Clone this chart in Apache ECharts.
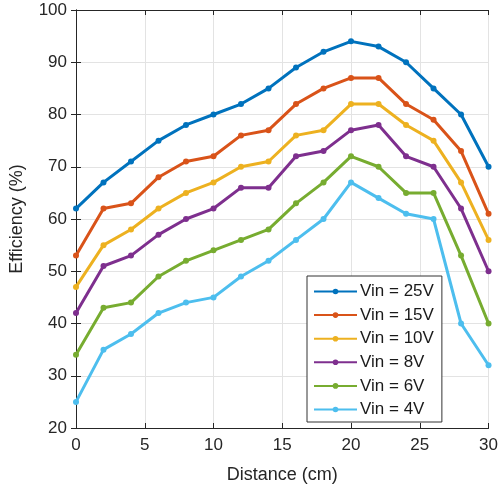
<!DOCTYPE html>
<html>
<head>
<meta charset="utf-8">
<script src="https://cdn.jsdelivr.net/npm/echarts@6/dist/echarts.min.js"></script>
<style>
  html, body { margin: 0; padding: 0; background: #fff; }
  #chart { width: 501px; height: 492px; }
</style>
</head>
<body>
<div id="chart"></div>
<script>
// Distance between coils (cm)
const distance = [0, 2, 4, 6, 8, 10, 12, 14, 16, 18, 20, 22, 24, 26, 28, 30];

// Measured efficiency (%) for each input voltage
const eff25V = [62, 67, 71, 75, 78, 80, 82, 85, 89, 92, 94, 93, 90, 85, 80, 70];
const eff15V = [53, 62, 63, 68, 71, 72, 76, 77, 82, 85, 87, 87, 82, 79, 73, 61];
const eff10V = [47, 55, 58, 62, 65, 67, 70, 71, 76, 77, 82, 82, 78, 75, 67, 56];
const eff8V  = [42, 51, 53, 57, 60, 62, 66, 66, 72, 73, 77, 78, 72, 70, 62, 50];
const eff6V  = [34, 43, 44, 49, 52, 54, 56, 58, 63, 67, 72, 70, 65, 65, 53, 40];
const eff4V  = [25, 35, 38, 42, 44, 45, 49, 52, 56, 60, 67, 64, 61, 60, 40, 32];

const seriesNames = ['Vin = 25V', 'Vin = 15V', 'Vin = 10V', 'Vin = 8V', 'Vin = 6V', 'Vin = 4V'];
const seriesValues = [eff25V, eff15V, eff10V, eff8V, eff6V, eff4V];
const colors = ['#0072BD', '#D95319', '#EDB120', '#7E2F8E', '#77AC30', '#4DBEEE'];

const FONT = 'Liberation Sans, Arial, sans-serif';
const axisColor = '#262626';

const chart = echarts.init(document.getElementById('chart'), null, { renderer: 'canvas' });

const series = seriesNames.map((name, i) => ({
  name: name,
  type: 'line',
  data: distance.map((d, j) => [d, seriesValues[i][j]]),
  symbol: 'circle',
  symbolSize: 6,
  lineStyle: { width: 3, color: colors[i] },
  itemStyle: { color: colors[i] },
  emphasis: { disabled: true },
  animation: false,
  z: 10 - i
}));

// Secondary axes close the plot box on the top and right sides
const boxAxis = {
  show: true,
  axisLine: { show: true, lineStyle: { color: axisColor, width: 1 } },
  axisTick: { show: true, inside: true, length: 5, lineStyle: { color: axisColor } },
  axisLabel: { show: false },
  splitLine: { show: false }
};

chart.setOption({
  backgroundColor: '#ffffff',
  color: colors,
  animation: false,
  grid: { left: 76, right: 9, top: 10, bottom: 64, containLabel: false },
  xAxis: [
    {
      type: 'value', min: 0, max: 30, interval: 5,
      name: 'Distance (cm)', nameLocation: 'middle', nameGap: 38,
      nameTextStyle: { fontFamily: FONT, fontSize: 18, color: axisColor },
      axisLine: { show: true, lineStyle: { color: axisColor, width: 1 } },
      axisTick: { show: true, inside: true, length: 5, lineStyle: { color: axisColor } },
      axisLabel: { fontFamily: FONT, fontSize: 17, color: axisColor, margin: 9 },
      splitLine: { show: true, lineStyle: { color: '#e3e3e3', width: 1 } }
    },
    Object.assign({ type: 'value', min: 0, max: 30, interval: 5, position: 'top' }, boxAxis)
  ],
  yAxis: [
    {
      type: 'value', min: 20, max: 100, interval: 10,
      name: 'Efficiency (%)', nameLocation: 'middle', nameGap: 50, nameRotate: 90,
      nameTextStyle: { fontFamily: FONT, fontSize: 18, color: axisColor },
      axisLine: { show: true, lineStyle: { color: axisColor, width: 1 } },
      axisTick: { show: true, inside: true, length: 5, lineStyle: { color: axisColor } },
      axisLabel: { fontFamily: FONT, fontSize: 17, color: axisColor, margin: 9 },
      splitLine: { show: true, lineStyle: { color: '#e3e3e3', width: 1 } }
    },
    Object.assign({ type: 'value', min: 20, max: 100, interval: 10, position: 'right' }, boxAxis)
  ],
  legend: {
    orient: 'vertical',
    left: 307, top: 276,
    padding: [7, 8, 4, 6],
    backgroundColor: '#ffffff',
    borderColor: '#333333',
    borderWidth: 1,
    borderRadius: 0,
    itemWidth: 43,
    itemHeight: 7,
    itemGap: 6.6,
    selectedMode: false,
    textStyle: { fontFamily: FONT, fontSize: 17, color: '#1a1a1a', lineHeight: 16, padding: [0, 0, 0, -2] },
    data: seriesNames
  },
  series: series
});
</script>
</body>
</html>
